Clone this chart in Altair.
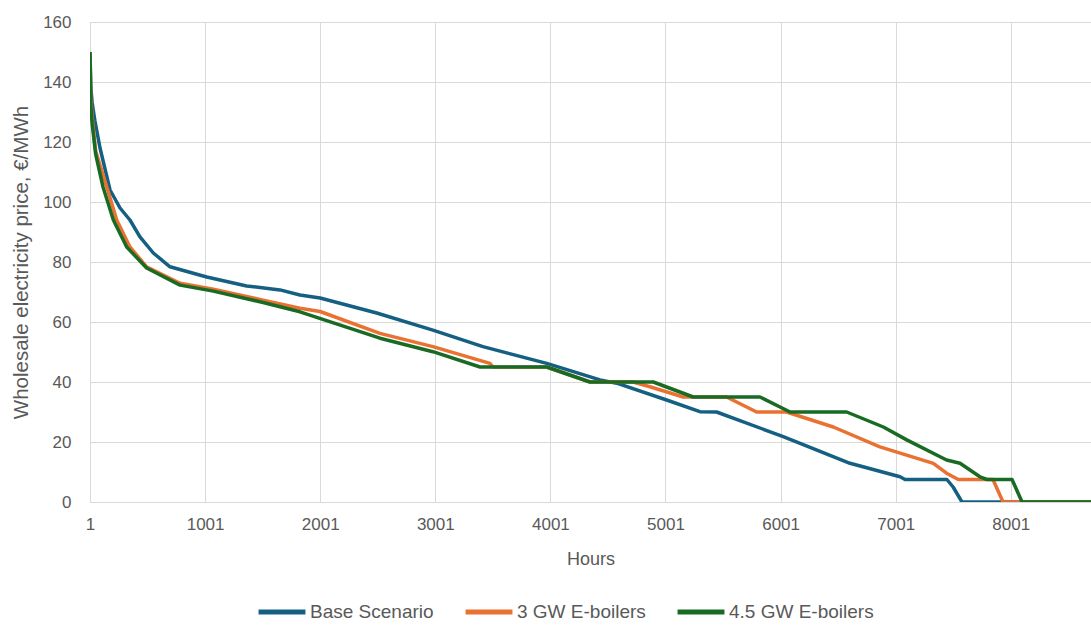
import altair as alt
import pandas as pd

# Price duration curves: hour rank vs wholesale price (€/MWh)
SERIES = ["Base Scenario", "3 GW E-boilers", "4.5 GW E-boilers"]
COLORS = ["#156082", "#E97132", "#196B24"]

BASE_HOURS = [1, 8, 20, 44, 88, 175, 262, 348, 435, 551, 696, 1015, 1362, 1652, 1825, 2000,
              2492, 2980, 3415, 3969, 4432, 4577, 5011, 5300, 5445, 6024, 6604, 7039, 7082,
              7446, 7500, 7577, 8760]
BASE_PRICE = [150, 138, 133, 127, 118, 104, 98, 94, 88.4, 83, 78.4, 75, 72, 70.7, 69, 68,
              63, 57.3, 51.8, 46.2, 40.7, 39.6, 34, 30.1, 30, 21.8, 12.9, 8.4, 7.5,
              7.5, 5, 0, 0]

E3_HOURS = [1, 8, 20, 50, 131, 233, 348, 493, 783, 1072, 1505, 1825, 2000, 2520, 2980,
            3476, 3502, 3969, 4345, 4720, 4866, 5155, 5532, 5793, 6053, 6459, 6864, 7328,
            7443, 7545, 7846, 7934, 8760]
E3_PRICE = [150, 134, 128, 117, 107, 94, 85, 78.4, 72.9, 70.9, 67.3, 64.6, 63.5, 56.2, 51.8,
            46.2, 45, 45, 40, 40, 38.4, 35, 35, 30, 30, 25, 18.4, 12.9,
            9.6, 7.5, 7.5, 0, 0]

E45_HOURS = [1, 8, 20, 50, 114, 204, 320, 493, 783, 1072, 1505, 1825, 2520, 2980, 3390,
             3969, 4345, 4895, 5242, 5822, 6083, 6575, 6894, 7097, 7443, 7560, 7733, 7794,
             8012, 8099, 8760]
E45_PRICE = [150, 132, 126, 116, 105, 94, 85, 78, 72.3, 70.3, 66.5, 63.4, 54.6, 50.1, 45,
             45, 40, 40, 35, 35, 30, 30, 25, 20.7, 14, 12.9, 8.4, 7.5,
             7.5, 0, 0]

X_TICKS = [1, 1001, 2001, 3001, 4001, 5001, 6001, 7001, 8001]
Y_TICKS = [0, 20, 40, 60, 80, 100, 120, 140, 160]

frames = []
for name, hours, price in zip(SERIES, [BASE_HOURS, E3_HOURS, E45_HOURS],
                              [BASE_PRICE, E3_PRICE, E45_PRICE]):
    frames.append(pd.DataFrame({"Scenario": name, "Hour": hours, "Price": price}))
df = pd.concat(frames, ignore_index=True)

FONT = "Liberation Sans"
TEXT = "#595959"
GRID = "#d9d9d9"

chart = (
    alt.Chart(df)
    .mark_line(strokeWidth=3.5, clip=True, strokeJoin="round")
    .encode(
        x=alt.X(
            "Hour:Q",
            scale=alt.Scale(domain=[1, 8698], nice=False, zero=False),
            axis=alt.Axis(
                title="Hours", values=X_TICKS, format="d", grid=True,
                gridColor=GRID, domain=False, ticks=False,
                labelPadding=14, labelFontSize=17, labelColor=TEXT,
                labelFont=FONT, titleFont=FONT, titleFontSize=18,
                titleFontWeight="normal", titleColor=TEXT, titlePadding=18,
                labelFlush=False,
            ),
        ),
        y=alt.Y(
            "Price:Q",
            scale=alt.Scale(domain=[0, 160], nice=False),
            axis=alt.Axis(
                title="Wholesale electricity price, €/MWh", values=Y_TICKS,
                grid=True, gridColor=GRID, domain=False, ticks=False,
                labelPadding=19, labelFontSize=17, labelColor=TEXT,
                labelFont=FONT, titleFont=FONT, titleFontSize=20.5,
                titleFontWeight="normal", titleColor=TEXT, titlePadding=11,
            ),
        ),
        color=alt.Color(
            "Scenario:N",
            scale=alt.Scale(domain=SERIES, range=COLORS),
            legend=alt.Legend(
                title=None, orient="none", direction="horizontal",
                legendX=166, legendY=564, symbolType="stroke",
                symbolSize=2200, symbolStrokeWidth=5, labelFontSize=19,
                labelFont=FONT, labelColor=TEXT, labelOffset=2,
                columnPadding=21,
            ),
        ),
        order=alt.Order("Hour:Q"),
    )
    .properties(
        width=1001,
        height=480,
        autosize=alt.AutoSizeParams(type="none"),
        padding={"left": 90, "top": 22, "right": 0, "bottom": 123},
    )
    .configure_view(stroke=None)
    .configure(background="white")
)

chart.save("out.html", embed_options={"renderer": "svg", "actions": False})
